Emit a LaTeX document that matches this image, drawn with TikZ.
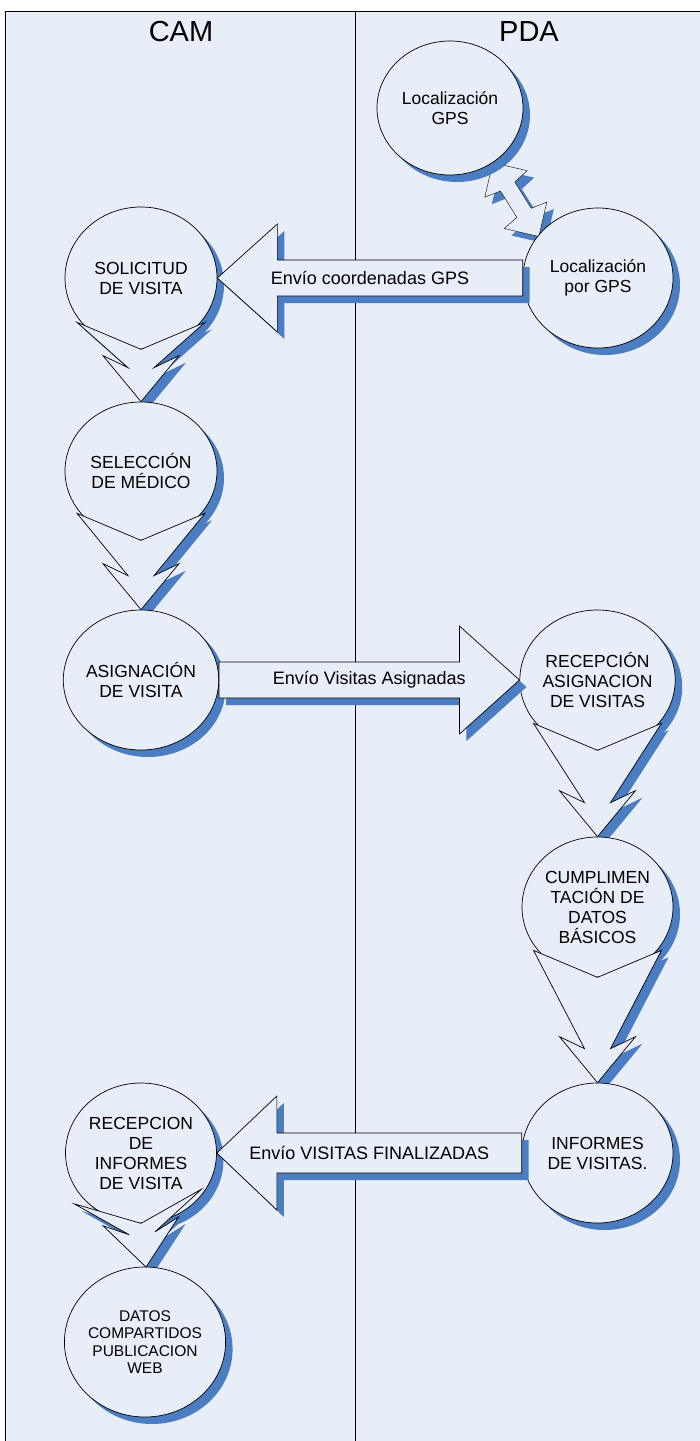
\documentclass[tikz,border=0pt]{standalone}
\usepackage{fontspec}
\setmainfont{Liberation Sans}
\usepackage{tikz}
\usetikzlibrary{shapes,calc,backgrounds,shadows}
\definecolor{lane}{RGB}{231,238,248}
\definecolor{shadowblue}{RGB}{74,125,194}
\newcommand{\bubblefont}{\fontsize{17.5}{20}\selectfont}
\newcommand{\smallbubblefont}{\fontsize{15.5}{17.5}\selectfont}
\newcommand{\flowlabelfont}{\fontsize{18}{20}\selectfont}
\newcommand{\headfont}{\fontsize{29}{32}\selectfont}
\tikzstyle{swim}=[
  x=1pt,y=-1pt,line width=0.7pt,line join=miter
]
\tikzstyle{blueshadow}=[
  drop shadow={shadow xshift=7pt,shadow yshift=-7pt,fill=shadowblue,opacity=1}
]
\tikzstyle{bubble}=[
  draw,ellipse,fill=lane,inner sep=0pt,align=center,font=\bubblefont,
  minimum width=151pt,minimum height=140pt,blueshadow
]
\tikzstyle{flowarrow}=[
  draw,fill=lane
]
\tikzstyle{flowshadow}=[
  draw=none,fill=shadowblue,transform canvas={shift={(7pt,-7pt)}}
]
% notched arrow from the bottom of one bubble to the top of the next
\newcommand{\flowdown}[3][flowarrow]{%
  \path[#1] ($(#2.south)+(-64,-27)$) -- (#2.south) -- ($(#2.south)+(64,-27)$)
    -- ($(#3.north)+(13,-34)$) -- ($(#3.north)+(38,-46)$) -- (#3.north)
    -- ($(#3.north)+(-38,-46)$) -- ($(#3.north)+(-13,-34)$) -- cycle;}
\newcommand{\flowlocal}[2][flowarrow]{%
  \path[#1] (-64,-27) -- (0,0) -- (64,-27) -- (13,#2-34) -- (38,#2-46)
    -- (0,#2) -- (-38,#2-46) -- (-13,#2-34) -- cycle;}
% block arrow between the lanes: from, to, shaft, head, name, text
\newcommand{\sideflow}[6]{%
  \path[flowarrow,blueshadow] ($(#1)+(0,-#3)$) -- ($(#2)!60pt!(#1)+(0,-#3)$)
    -- ($(#2)!60pt!(#1)+(0,-#4)$) -- (#2) -- ($(#2)!60pt!(#1)+(0,#4)$)
    -- ($(#2)!60pt!(#1)+(0,#3)$) -- ($(#1)+(0,#3)$) -- cycle;
  \node[font=\flowlabelfont] (#5) at ($(#1)!0.5!(#2)$) {#6};}

\begin{document}
\begin{tikzpicture}[swim]
  \useasboundingbox (0,0) rectangle (700,1441);
  \begin{scope}[on background layer]
    \fill[lane] (5,11) rectangle (720,1460);
    \draw (5,1460) -- (5,11) -- (720,11);
    \draw (355,11) -- (355,1460);
  \end{scope}

  \node[font=\headfont] (cam) at (181,32) {CAM};
  \node[font=\headfont] (pda) at (529,32) {PDA};

  \node (gps) at (450,108) [bubble,minimum width=146pt,minimum height=134pt] {Localización\\GPS};
  \node (porgps) at (598,278) [bubble,minimum width=150pt] {Localización\\por GPS};
  \node (solicitud) at (141,278) [bubble,minimum width=152pt,minimum height=142pt] {SOLICITUD\\DE VISITA};
  \node (seleccion) at (141,471) [bubble,minimum width=152pt,minimum height=138pt] {SELECCIÓN\\DE MÉDICO};
  \node (asignacion) at (141,680) [bubble,minimum width=152pt] {ASIGNACIÓN\\DE VISITA};
  \node (recepcion) at (597.5,680) [bubble] {RECEPCIÓN\\ASIGNACION\\DE VISITAS};
  \node (cumpl) at (597.5,907) [bubble] {CUMPLIMEN\\TACIÓN DE\\DATOS\\BÁSICOS};
  \node (informes) at (597.5,1153) [bubble] {INFORMES\\DE VISITAS.};
  \node (recinf) at (141,1153) [bubble] {RECEPCION\\DE\\INFORMES\\DE VISITA};
  \node (datos) at (145,1342) [bubble,minimum width=156pt,minimum height=150pt,font=\smallbubblefont] {DATOS\\COMPARTIDOS\\PUBLICACION\\WEB};

  \begin{scope}[on background layer]
    \flowdown[flowshadow]{solicitud}{seleccion}
    \flowdown[flowshadow]{seleccion}{asignacion}
    \flowdown[flowshadow]{recepcion}{cumpl}
    \flowdown[flowshadow]{cumpl}{informes}
  \end{scope}
  \flowdown{solicitud}{seleccion}
  \flowdown{seleccion}{asignacion}
  \flowdown{recepcion}{cumpl}
  \flowdown{cumpl}{informes}

  \begin{scope}[shift={(recinf.south)},rotate=6.6]
    \begin{scope}[on background layer]
      \flowlocal[flowshadow]{44}
    \end{scope}
    \flowlocal{44}
  \end{scope}

  \sideflow{porgps.west}{solicitud.east}{18}{54}{gpsmsg}{Envío coordenadas GPS}
  \sideflow{asignacion.east}{recepcion.west}{18}{54}{asigmsg}{Envío Visitas Asignadas}
  \sideflow{informes.west}{recinf.east}{20}{57}{finmsg}{Envío VISITAS FINALIZADAS}

  % two way link between the gps bubbles
  \begin{scope}[on background layer,shift={(gps.-52)},rotate=32]
    \path[flowarrow,blueshadow] (0,0) -- (25,25) -- (8.5,28) -- (8.5,59) -- (25,62) -- (0,87)
      -- (-25,62) -- (-8.5,59) -- (-8.5,28) -- (-25,25) -- cycle;
  \end{scope}
\end{tikzpicture}
\end{document}
